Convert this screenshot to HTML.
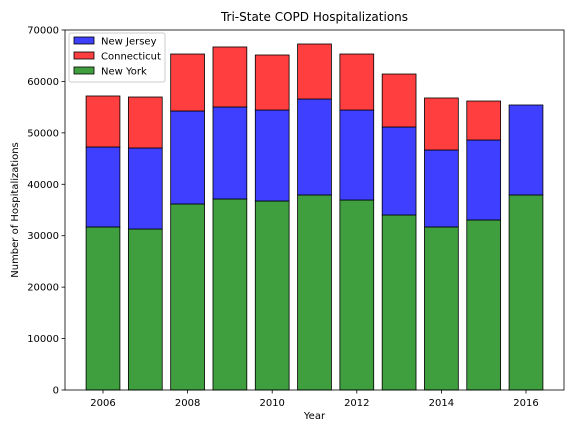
<!DOCTYPE html>
<html><head><meta charset="utf-8"><style>
body{margin:0;background:#fff;font-family:"Liberation Sans","DejaVu Sans",sans-serif}
svg text{font-family:"DejaVu Sans","Liberation Sans",sans-serif}
</style></head><body>
<svg id="c" width="576" height="432" viewBox="0 0 576 432" xmlns="http://www.w3.org/2000/svg"></svg>
<script>
const years=[2006,2007,2008,2009,2010,2011,2012,2013,2014,2015,2016];
const newYork=[31700,31300,36170,37140,36750,37920,36940,34030,31700,33060,37920];
const newJersey=[15550,15760,18080,17890,17690,18660,17500,17110,14970,15550,17500];
const connecticut=[9920,9910,11080,11670,10700,10700,10890,10300,10110,7580,0];
const yTicks=[0,10000,20000,30000,40000,50000,60000,70000];
const xTicks=[2006,2008,2010,2012,2014,2016];
const L=65,R=564,T=30,B=390,yMax=70000;
const xs=v=>103+(v-2006)*42.3;
const ys=v=>B-(v/yMax)*(B-T);
const svg=document.getElementById('c');
const NS='http://www.w3.org/2000/svg';
function mk(t,a,txt){const e=document.createElementNS(NS,t);for(const k in a)e.setAttribute(k,a[k]);if(txt!==undefined)e.textContent=txt;svg.appendChild(e);return e;}
const bw=0.8*42.3;
years.forEach((y,i)=>{
  const segs=[[newYork[i],0,'#3f9f3f','bar-new-york'],[newJersey[i],newYork[i],'#3f3fff','bar-new-jersey'],[connecticut[i],newYork[i]+newJersey[i],'#ff3f3f','bar-connecticut']];
  segs.forEach(s=>{if(s[0]<=0)return;
    const r=mk('rect',{x:xs(y)-bw/2,y:ys(s[1]+s[0]),width:bw,height:ys(s[1])-ys(s[1]+s[0]),fill:s[2],stroke:'#000','stroke-width':0.8});
    
    
  });
});
const ax=mk('rect',{x:L,y:T,width:R-L,height:B-T,fill:'none',stroke:'#000','stroke-width':0.8});

yTicks.forEach(v=>{mk('line',{x1:L-3.5,x2:L,y1:ys(v),y2:ys(v),stroke:'#000','stroke-width':0.8});
  const t=mk('text',{x:L-6,y:ys(v)+3.5,'font-size':10,'text-anchor':'end'},v);
  });
xTicks.forEach(v=>{mk('line',{x1:xs(v),x2:xs(v),y1:B,y2:B+3.5,stroke:'#000','stroke-width':0.8});
  const t=mk('text',{x:xs(v),y:B+16,'font-size':10,'text-anchor':'middle'},v);
  });
let t=mk('text',{x:(L+R)/2,y:21,'font-size':12,'text-anchor':'middle'},'Tri-State COPD Hospitalizations');

t=mk('text',{x:(L+R)/2,y:419,'font-size':10,'text-anchor':'middle'},'Year');

t=mk('text',{x:0,y:0,'font-size':10,'text-anchor':'middle',transform:'translate(18,'+((T+B)/2)+') rotate(-90)'},'Number of Hospitalizations');

const lg=mk('rect',{x:69,y:33,width:96,height:49,fill:'#fff','fill-opacity':0.8,stroke:'#ccc',rx:2});

[['New Jersey','#3f3fff'],['Connecticut','#ff3f3f'],['New York','#3f9f3f']].forEach((e,i)=>{
  const yy=37+i*15;
  mk('rect',{x:74,y:yy,width:20,height:7,fill:e[1],stroke:'#000','stroke-width':0.8});
  const tt=mk('text',{x:101,y:yy+7.5,'font-size':10},e[0]);
  
});
</script>
</body></html>
